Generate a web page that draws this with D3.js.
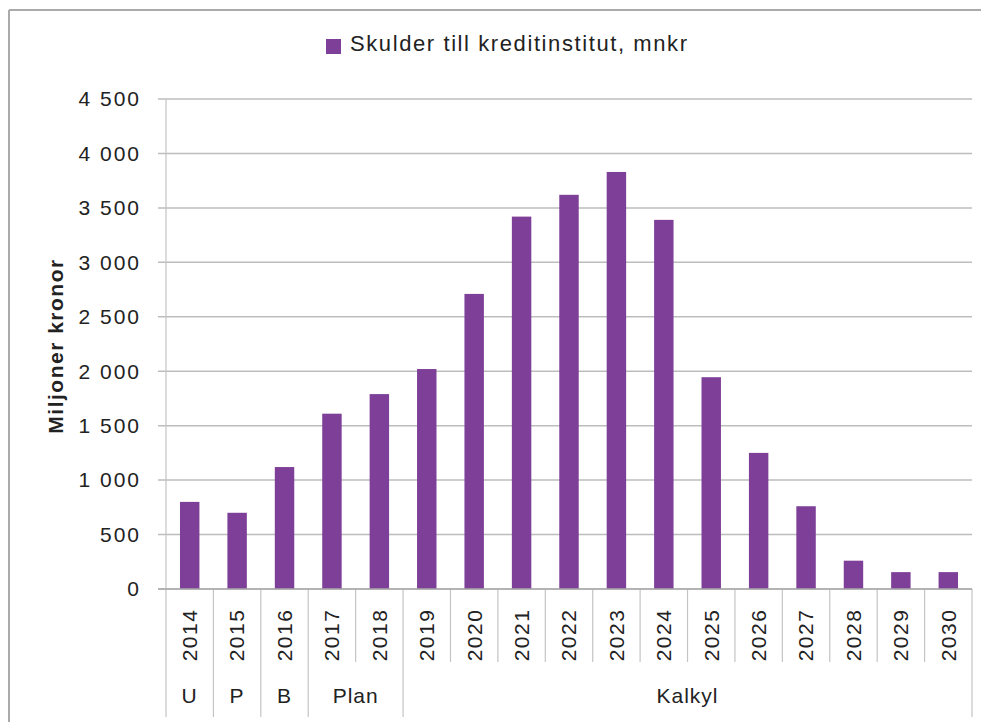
<!DOCTYPE html>
<meta charset="utf-8">
<style>
  body { margin: 0; background: #fff; }
  text { font-family: "Liberation Sans", Arial, sans-serif; fill: #222; }
  .grid line { stroke: #bdbdbd; stroke-width: 1.5; }
  .sep { stroke: #c4c4c4; stroke-width: 1.2; }
</style>
<body>
<div id="chart"></div>
<script src="https://d3js.org/d3.v7.min.js"></script>
<script>

// data
var years = ["2014", "2015", "2016", "2017", "2018", "2019", "2020", "2021", "2022",
             "2023", "2024", "2025", "2026", "2027", "2028", "2029", "2030"];
var values = [800, 700, 1120, 1610, 1790, 2020, 2710, 3420, 3620, 3830, 3390, 1945, 1250, 760, 260, 155, 155];
var groups = ["U", "P", "B", "Plan", "Kalkyl"];
var groupSpans = [1, 1, 1, 2, 12];
var yTicks = [0, 500, 1000, 1500, 2000, 2500, 3000, 3500, 4000, 4500];
var seriesName = "Skulder till kreditinstitut, mnkr";
var yTitle = "Miljoner kronor";

var width = 981, height = 722;
// plot area edges
var plotL = 166, plotR = 972, plotT = 99, plotB = 589;
var barColor = "#7e3f98";

var svg = d3.select("#chart").append("svg")
    .attr("width", width)
    .attr("height", height);

// frame (only top and left edges show)
svg.append("line")
    .attr("x1", 9).attr("x2", width).attr("y1", 10).attr("y2", 10)
    .attr("stroke", "#aaa").attr("stroke-width", 2);
svg.append("line")
    .attr("x1", 9).attr("x2", 9).attr("y1", 10).attr("y2", height)
    .attr("stroke", "#aaa").attr("stroke-width", 2);

var x = d3.scaleBand().domain(years).range([plotL, plotR]).padding(0);
var y = d3.scaleLinear().domain([0, 4500]).range([plotB, plotT]);

var fmt = d3.formatLocale({ decimal: ",", thousands: " ", grouping: [3], currency: ["", " kr"] }).format(",");

// gridlines + y labels
svg.append("g").attr("class", "grid")
  .selectAll("line")
    .data(yTicks)
  .enter().append("line")
    .attr("x1", plotL - 8)
    .attr("x2", plotR)
    .attr("y1", function(d) { return y(d); })
    .attr("y2", function(d) { return y(d); });

svg.append("g").selectAll("text")
    .data(yTicks)
  .enter().append("text")
    .attr("x", 141)
    .attr("y", function(d) { return y(d); })
    .attr("dy", "0.35em")
    .attr("text-anchor", "end")
    .attr("font-size", 21)
    .attr("letter-spacing", 2)
    .text(function(d) { return fmt(d); });

// y axis line
svg.append("line").attr("class", "sep")
    .attr("x1", plotL).attr("x2", plotL)
    .attr("y1", plotT).attr("y2", plotB);

// bars
var bw = x.bandwidth() * 0.41;
svg.append("g").selectAll("rect")
    .data(values)
  .enter().append("rect")
    .attr("x", function(d, i) { return x(years[i]) + (x.bandwidth() - bw) / 2; })
    .attr("y", function(d) { return y(d); })
    .attr("width", bw)
    .attr("height", function(d) { return y(0) - y(d); })
    .attr("fill", barColor);

// category separators below axis
var groupStarts = [];
var acc = 0;
groupSpans.forEach(function(s) { groupStarts.push(acc); acc += s; });

var sepG = svg.append("g");
years.forEach(function(yr, i) {
  if (i === 0) return;
  var isGroup = groupStarts.indexOf(i) >= 0;
  sepG.append("line").attr("class", "sep")
      .attr("x1", x(yr)).attr("x2", x(yr))
      .attr("y1", plotB).attr("y2", isGroup ? 717 : 662);
});
sepG.append("line").attr("class", "sep")
    .attr("x1", plotL).attr("x2", plotL).attr("y1", plotB).attr("y2", 717);
sepG.append("line").attr("class", "sep")
    .attr("x1", plotR).attr("x2", plotR).attr("y1", plotB).attr("y2", 717);

// x axis line
svg.append("line")
    .attr("x1", plotL - 8).attr("x2", plotR)
    .attr("y1", plotB).attr("y2", plotB)
    .attr("stroke", "#aaa").attr("stroke-width", 1.5);

// year labels
svg.append("g").selectAll("text")
    .data(years)
  .enter().append("text")
    .attr("transform", function(d) { return "translate(" + (x(d) + x.bandwidth() / 2) + ",635) rotate(-90)"; })
    .attr("dy", "0.35em")
    .attr("text-anchor", "middle")
    .attr("font-size", 21)
    .attr("letter-spacing", 1.5)
    .text(function(d) { return d; });

// group labels
svg.append("g").selectAll("text")
    .data(groups)
  .enter().append("text")
    .attr("x", function(d, i) {
      var a = x(years[groupStarts[i]]);
      var b = a + groupSpans[i] * x.bandwidth();
      return (a + b) / 2;
    })
    .attr("y", 696)
    .attr("dy", "0.35em")
    .attr("text-anchor", "middle")
    .attr("font-size", 21)
    .attr("letter-spacing", 1)
    .text(function(d) { return d; });

// y title
svg.append("text")
    .attr("transform", "translate(56,346) rotate(-90)")
    .attr("dy", "0.35em")
    .attr("text-anchor", "middle")
    .attr("font-size", 21)
    .attr("font-weight", "bold")
    .attr("letter-spacing", 1.5)
    .text(yTitle);

// legend
svg.append("rect")
    .attr("x", 326).attr("y", 39)
    .attr("width", 15).attr("height", 15)
    .attr("fill", barColor);
svg.append("text")
    .attr("x", 350).attr("y", 51)
    .attr("font-size", 22)
    .attr("textLength", 337)
    .attr("lengthAdjust", "spacing")
    .text(seriesName);

</script>
</body>
